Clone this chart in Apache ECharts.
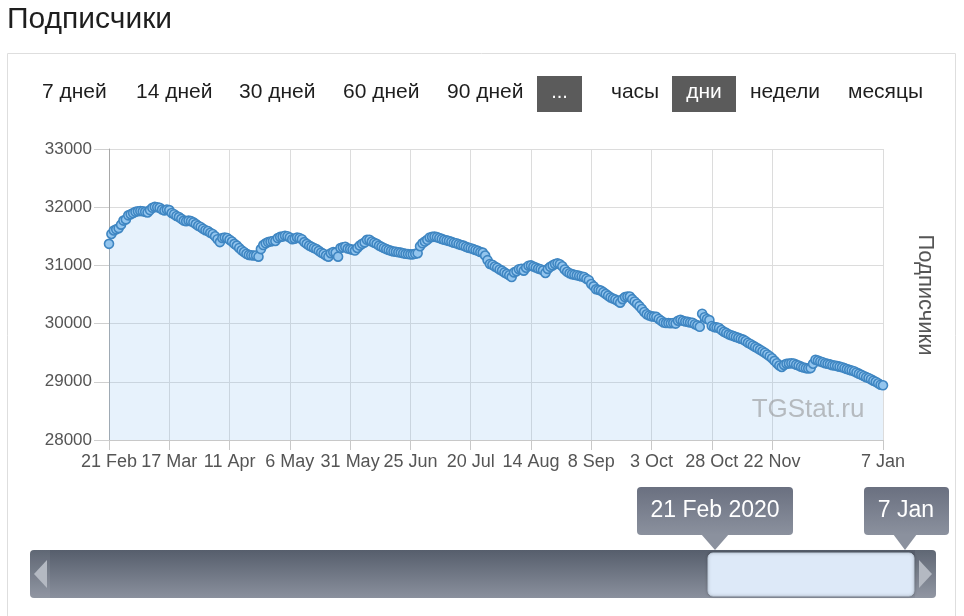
<!DOCTYPE html>
<html><head><meta charset="utf-8">
<script src="https://cdn.jsdelivr.net/npm/echarts@6/dist/echarts.min.js"></script>
<style>html,body{margin:0;padding:0;background:#fff}#c{width:964px;height:616px}</style>
</head><body><div id="c"></div>
<script>
// ---- data ----
const chartTitle = 'Подписчики';
const seriesName = 'Подписчики';
const watermark = 'TGStat.ru';
const tickLabels = ['21 Feb','17 Mar','11 Apr','6 May','31 May','25 Jun','20 Jul','14 Aug','8 Sep','3 Oct','28 Oct','22 Nov','7 Jan'];
const tickDays   = [0,25,50,75,100,125,150,175,200,225,250,275,321];
const yMin = 28000, yMax = 33000, yStep = 1000;
const periodButtons = ['7 дней','14 дней','30 дней','60 дней','90 дней','...'];
const unitButtons = ['часы','дни','недели','месяцы'];
const rangeLabels = ['21 Feb 2020','7 Jan'];
// daily subscriber counts, 21 Feb 2020 .. 7 Jan 2021
const subscribers = [
31370,31540,31600,31620,31640,31700,31770,31790,31860,31880,
31900,31920,31930,31935,31930,31920,31910,31950,31990,32005,
32000,31990,31960,31945,31960,31950,31900,31880,31850,31830,
31800,31770,31760,31770,31760,31740,31710,31680,31660,31630,
31605,31590,31560,31540,31500,31450,31400,31470,31480,31470,
31440,31410,31370,31340,31300,31260,31230,31200,31180,31175,
31170,31170,31150,31280,31350,31380,31400,31410,31420,31420,
31470,31490,31495,31510,31500,31480,31450,31460,31480,31470,
31450,31400,31370,31340,31320,31300,31280,31250,31220,31200,
31170,31150,31210,31230,31220,31150,31300,31310,31320,31290,
31280,31270,31255,31300,31340,31370,31395,31440,31440,31410,
31390,31370,31340,31320,31300,31280,31265,31250,31240,31235,
31225,31220,31210,31200,31195,31190,31190,31200,31210,31330,
31380,31410,31440,31480,31490,31495,31485,31470,31455,31440,
31430,31420,31405,31390,31380,31365,31350,31340,31320,31305,
31295,31280,31265,31250,31230,31220,31170,31090,31025,31010,
30980,30960,30930,30910,30880,30855,30830,30800,30880,30900,
30935,30940,30910,30960,30995,31000,30980,30965,30945,30935,
30915,30870,30940,30975,31000,31025,31035,31020,30985,30930,
30890,30865,30850,30840,30830,30820,30810,30800,30770,30745,
30680,30640,30590,30580,30570,30540,30510,30480,30450,30430,
30415,30390,30360,30420,30455,30465,30465,30420,30380,30340,
30300,30250,30200,30160,30140,30125,30120,30115,30080,30050,
30020,30010,30010,30005,30010,30000,30050,30065,30050,30035,
30030,30020,30015,29990,29970,29945,30170,30110,30080,30060,
29960,29940,29935,29925,29890,29860,29840,29815,29800,29785,
29770,29755,29740,29725,29700,29670,29650,29625,29600,29575,
29550,29525,29500,29470,29440,29405,29360,29320,29280,29255,
29290,29310,29315,29320,29315,29295,29280,29260,29245,29235,
29230,29235,29310,29380,29365,29350,29335,29320,29310,29300,
29285,29280,29270,29260,29250,29235,29220,29205,29195,29180,
29160,29140,29120,29100,29080,29065,29045,29020,29000,28975,
28950,28940
];

// ---- chart ----
const chart = echarts.init(document.getElementById('c'), null, {renderer:'canvas'});
const FONT = 'Liberation Sans, Arial, sans-serif';
const g = [];
// outer panel border
g.push({type:'rect', shape:{x:7.5,y:53.5,width:948,height:600}, style:{fill:'none',stroke:'#dedede',lineWidth:1}, z:0});
// page title
g.push({type:'text', x:7, y:20, style:{text:chartTitle, font:'30px '+FONT, fill:'#1e1e1e', textAlign:'left', textVerticalAlign:'middle'}});
// buttons
const periodX = [42,136,239,343,447];
periodButtons.forEach((t,i)=>{
  if (t === '...') {
    g.push({type:'rect', shape:{x:537,y:76,width:45,height:36}, style:{fill:'#5b5b5b'}});
    g.push({type:'text', x:559.5, y:92, style:{text:t, font:'20px '+FONT, fill:'#fff', textAlign:'center', textVerticalAlign:'middle'}});
  } else {
    g.push({type:'text', x:periodX[i], y:92, style:{text:t, font:'21px '+FONT, fill:'#1e1e1e', textAlign:'left', textVerticalAlign:'middle'}});
  }
});
const unitX = [611,704,750,848];
unitButtons.forEach((t,i)=>{
  if (i === 1) {
    g.push({type:'rect', shape:{x:672,y:76,width:64,height:36}, style:{fill:'#5b5b5b'}});
    g.push({type:'text', x:unitX[i], y:92, style:{text:t, font:'21px '+FONT, fill:'#fff', textAlign:'center', textVerticalAlign:'middle'}});
  } else {
    g.push({type:'text', x:unitX[i], y:92, style:{text:t, font:'21px '+FONT, fill:'#1e1e1e', textAlign:'left', textVerticalAlign:'middle'}});
  }
});
// right axis title
g.push({type:'text', x:925, y:295, rotation:-Math.PI/2, style:{text:seriesName, font:'22px '+FONT, fill:'#555', textAlign:'center', textVerticalAlign:'middle'}});
// watermark
g.push({type:'text', x:808, y:410, z:10, style:{text:watermark, font:'26px '+FONT, fill:'rgba(140,140,140,0.55)', textAlign:'center', textVerticalAlign:'middle'}});
// navigator / scrollbar
const barGrad = {type:'linear',x:0,y:0,x2:0,y2:1,colorStops:[{offset:0,color:'#565e6c'},{offset:1,color:'#8a909d'}]};
g.push({type:'rect', shape:{x:30,y:550,width:906,height:48,r:4}, style:{fill:barGrad}});
g.push({type:'rect', shape:{x:30,y:550,width:20,height:48,r:[4,0,0,4]}, style:{fill:'rgba(255,255,255,0.06)'}});
g.push({type:'rect', shape:{x:915,y:550,width:21,height:48,r:[0,4,4,0]}, style:{fill:'rgba(255,255,255,0.06)'}});
g.push({type:'polygon', shape:{points:[[34,574],[47,560],[47,588]]}, style:{fill:'#b4b9c2'}});
g.push({type:'polygon', shape:{points:[[932,574],[919,560],[919,588]]}, style:{fill:'#b4b9c2'}});
g.push({type:'rect', shape:{x:708,y:553,width:206,height:43,r:5}, style:{fill:'#dde9f8', stroke:'#c2cfde', lineWidth:1, shadowBlur:3, shadowColor:'rgba(0,0,0,0.25)'}});
const tipGrad = {type:'linear',x:0,y:0,x2:0,y2:1,colorStops:[{offset:0,color:'#6a7080'},{offset:1,color:'#8b919e'}]};
// range label 1
g.push({type:'rect', shape:{x:637,y:487,width:156,height:48,r:4}, style:{fill:tipGrad}});
g.push({type:'polygon', shape:{points:[[701,534],[729,534],[715,550]]}, style:{fill:'#8b919e'}});
g.push({type:'text', x:715, y:511, style:{text:rangeLabels[0], font:'23px '+FONT, fill:'#fff', textAlign:'center', textVerticalAlign:'middle'}});
// range label 2
g.push({type:'rect', shape:{x:864,y:487,width:85,height:48,r:4}, style:{fill:tipGrad}});
g.push({type:'polygon', shape:{points:[[893,534],[917,534],[905,550]]}, style:{fill:'#8b919e'}});
g.push({type:'text', x:906, y:511, style:{text:rangeLabels[1], font:'23px '+FONT, fill:'#fff', textAlign:'center', textVerticalAlign:'middle'}});

const option = {
  animation:false,
  backgroundColor:'#fff',
  textStyle:{fontFamily:FONT},
  grid:{left:109, right:81, top:149, bottom:176, containLabel:false},
  xAxis:{
    type:'value', min:0, max:subscribers.length-1, interval:25,
    axisLine:{show:true, lineStyle:{color:'#c8c8c8'}},
    axisTick:{show:true, length:10, customValues:tickDays, lineStyle:{color:'#c8c8c8'}},
    axisLabel:{show:true, customValues:tickDays, margin:13, fontSize:18, color:'#555', fontFamily:FONT,
      formatter:(v)=>{const k=tickDays.indexOf(v); return k>=0?tickLabels[k]:'';}},
    splitLine:{show:true, lineStyle:{color:'#dcdcdc'}}
  },
  yAxis:{
    type:'value', min:yMin, max:yMax, interval:yStep,
    axisLine:{show:true, lineStyle:{color:'#a8a8a8'}},
    axisTick:{show:true, length:15, lineStyle:{color:'#cfcfcf'}},
    axisLabel:{margin:17, fontSize:17, color:'#555', fontFamily:FONT, formatter:(v)=>String(v)},
    splitLine:{show:true, lineStyle:{color:'#dcdcdc'}}
  },
  series:[{
    name:seriesName, type:'line',
    data:subscribers.map((v,i)=>[i,v]),
    showSymbol:true, symbol:'circle', symbolSize:9,
    lineStyle:{color:'#3f86c2', width:2},
    itemStyle:{color:'#93c5ee', borderColor:'#3f86c2', borderWidth:1.6},
    areaStyle:{color:'rgba(124,181,236,0.26)'},
    z:3
  }],
  graphic:g
};
chart.setOption(option);
</script>
</body></html>
